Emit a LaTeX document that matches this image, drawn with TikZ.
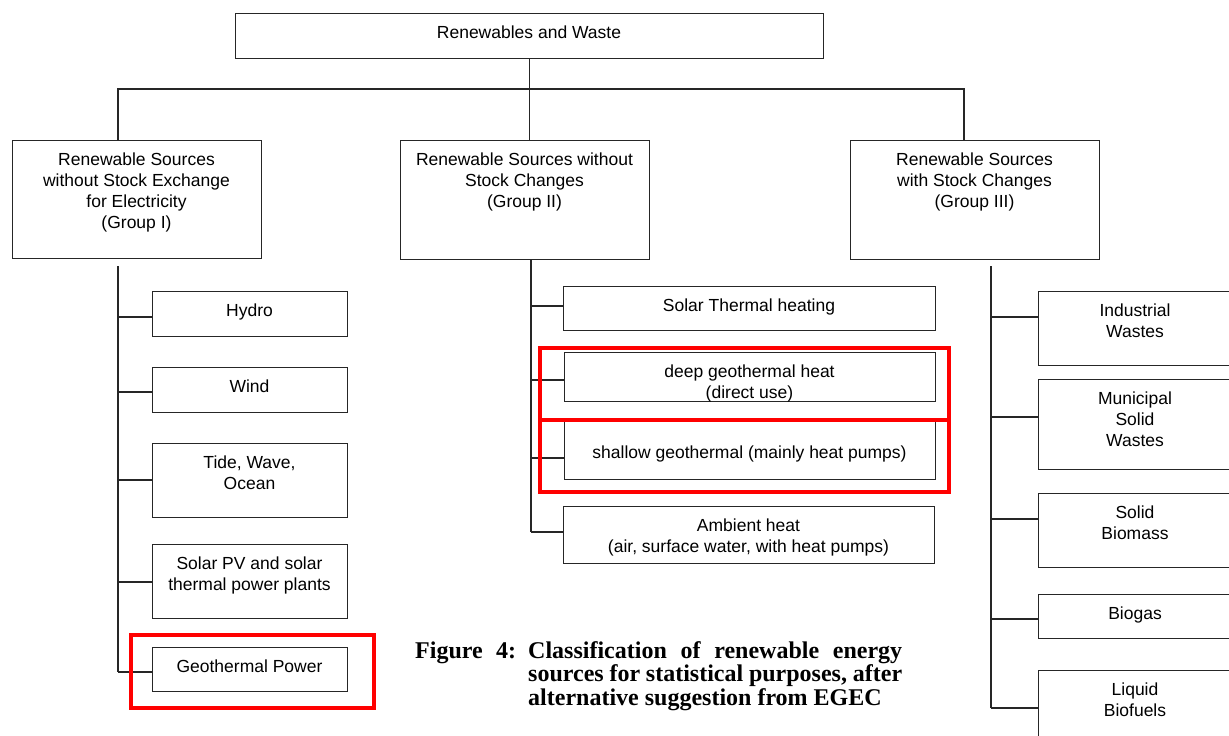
\documentclass[tikz,border=0pt]{standalone}
\usepackage{fontspec}
\setmainfont{Liberation Sans}
\newfontfamily\capfont{Liberation Serif}
\newcommand\ml[1]{\begin{tabular}[t]{@{}c@{}}#1\end{tabular}}
\newcommand\bx[5]{\node[box, anchor=north west, minimum width={#4-#2}, minimum height={#5-#3}] (#1) at (#2,#3) {};}
\newcommand\hlbx[5]{\node[hl, anchor=north west, minimum width={#4-#2}, minimum height={#5-#3}] (#1) at (#2,#3) {};}
\begin{document}
\begin{tikzpicture}[x=1pt,y=-1pt,
  box/.style={draw=black!85, line width=1.1pt, rectangle, inner sep=0pt},
  hl/.style={draw=red, line width=4pt, rectangle, inner sep=0pt},
  lbl/.style={anchor=base, inner sep=0pt, font=\fontsize{17.5}{21}\selectfont},
  conn/.style={draw=black!85, line width=1.1pt},
  capf/.style={anchor=base west, inner sep=0pt, font=\capfont\bfseries\fontsize{24}{23.5}\selectfont}]
\useasboundingbox (0,0) rectangle (1229,736);
\fill[white] (0,0) rectangle (1229,736);

% boxes
\bx{top}{235}{13}{823}{58}
\bx{g1}{12}{140}{261}{258}
\bx{g2}{400}{140}{649}{259}
\bx{g3}{850}{140}{1099}{259}
\bx{hydro}{152}{291}{347}{336}
\bx{wind}{152}{367}{347}{412}
\bx{tide}{152}{443}{347}{517}
\bx{spv}{152}{544}{347}{618}
\bx{geop}{152}{647}{347}{691}
\bx{solth}{563}{286}{935}{330}
\bx{deep}{564}{352}{935}{401}
\bx{shallow}{564}{421}{935}{479}
\bx{amb}{563}{506}{934}{563}
\bx{ind}{1038}{291}{1232}{365}
\bx{mun}{1038}{379}{1232}{469}
\bx{bio}{1038}{493}{1232}{567}
\bx{biogas}{1038}{594}{1232}{638}
\bx{liq}{1038}{670}{1232}{745}

% texts
\node[lbl] (tTop) at (529,38) {Renewables and Waste};
\node[lbl] (tG1) at (136.5,165) {\ml{Renewable Sources\\without Stock Exchange\\for Electricity\\(Group I)}};
\node[lbl] (tG2) at (524.5,165) {\ml{Renewable Sources without\\Stock Changes\\(Group II)}};
\node[lbl] (tG3) at (974.5,165) {\ml{Renewable Sources\\with Stock Changes\\(Group III)}};
\node[lbl] (tHydro) at (249.5,316) {Hydro};
\node[lbl] (tWind) at (249.5,392) {Wind};
\node[lbl] (tTide) at (249.5,468) {\ml{Tide, Wave,\\Ocean}};
\node[lbl] (tSpv) at (249.5,569) {\ml{Solar PV and solar\\thermal power plants}};
\node[lbl] (tGeop) at (249.5,672) {Geothermal Power};
\node[lbl] (tSolth) at (749,311) {Solar Thermal heating};
\node[lbl] (tDeep) at (749.5,377) {\ml{deep geothermal heat\\(direct use)}};
\node[lbl] (tShallow) at (749.5,458) {shallow geothermal (mainly heat pumps)};
\node[lbl] (tAmb) at (748.5,531) {\ml{Ambient heat\\(air, surface water, with heat pumps)}};
\node[lbl] (tInd) at (1135,316) {\ml{Industrial\\Wastes}};
\node[lbl] (tMun) at (1135,404) {\ml{Municipal\\Solid\\Wastes}};
\node[lbl] (tBio) at (1135,518) {\ml{Solid\\Biomass}};
\node[lbl] (tBiogas) at (1135,619) {Biogas};
\node[lbl] (tLiq) at (1135,695) {\ml{Liquid\\Biofuels}};

% top-level connectors
\coordinate (j1) at (118,89);
\coordinate (j3) at (964,89);
\draw[conn] (top.south) -- (top.south |- g2.north);
\draw[conn] (g1.north -| j1) -- (j1) -- (j3) -- (g3.north -| j3);

% group I branches
\coordinate (t1a) at (118,266);
\coordinate (t1b) at (118,672);
\draw[conn] (t1a) -- (t1b);
\foreach \n/\yy in {hydro/317,wind/392,tide/480,spv/582,geop/672}
  \draw[conn] (118,\yy) -- (\n.west |- 0,\yy);

% group II branches
\coordinate (t2b) at (531,532);
\draw[conn] (g2.south -| t2b) -- (t2b);
\foreach \n/\yy in {solth/306,deep/380,shallow/458,amb/532}
  \draw[conn] (531,\yy) -- (\n.west |- 0,\yy);

% group III branches
\coordinate (t3a) at (991,266);
\coordinate (t3b) at (991,708);
\draw[conn] (t3a) -- (t3b);
\foreach \n/\yy in {ind/317,mun/417,bio/519,biogas/619,liq/708}
  \draw[conn] (991,\yy) -- (\n.west |- 0,\yy);

% red highlights
\hlbx{hl1}{129}{633}{372}{706}
\hlbx{hlA}{538}{346}{947}{418}
\hlbx{hlB}{538}{418}{947}{490}

% caption
\node[capf] (capA) at (415,658) {\makebox[101pt][s]{Figure 4:}};
\node[capf] (capB) at (528,658)
  {\parbox[t]{374pt}{\fontsize{24}{23.5}\selectfont Classification of renewable energy\linebreak sources for statistical purposes, after\linebreak alternative suggestion from EGEC}};
\end{tikzpicture}
\end{document}
